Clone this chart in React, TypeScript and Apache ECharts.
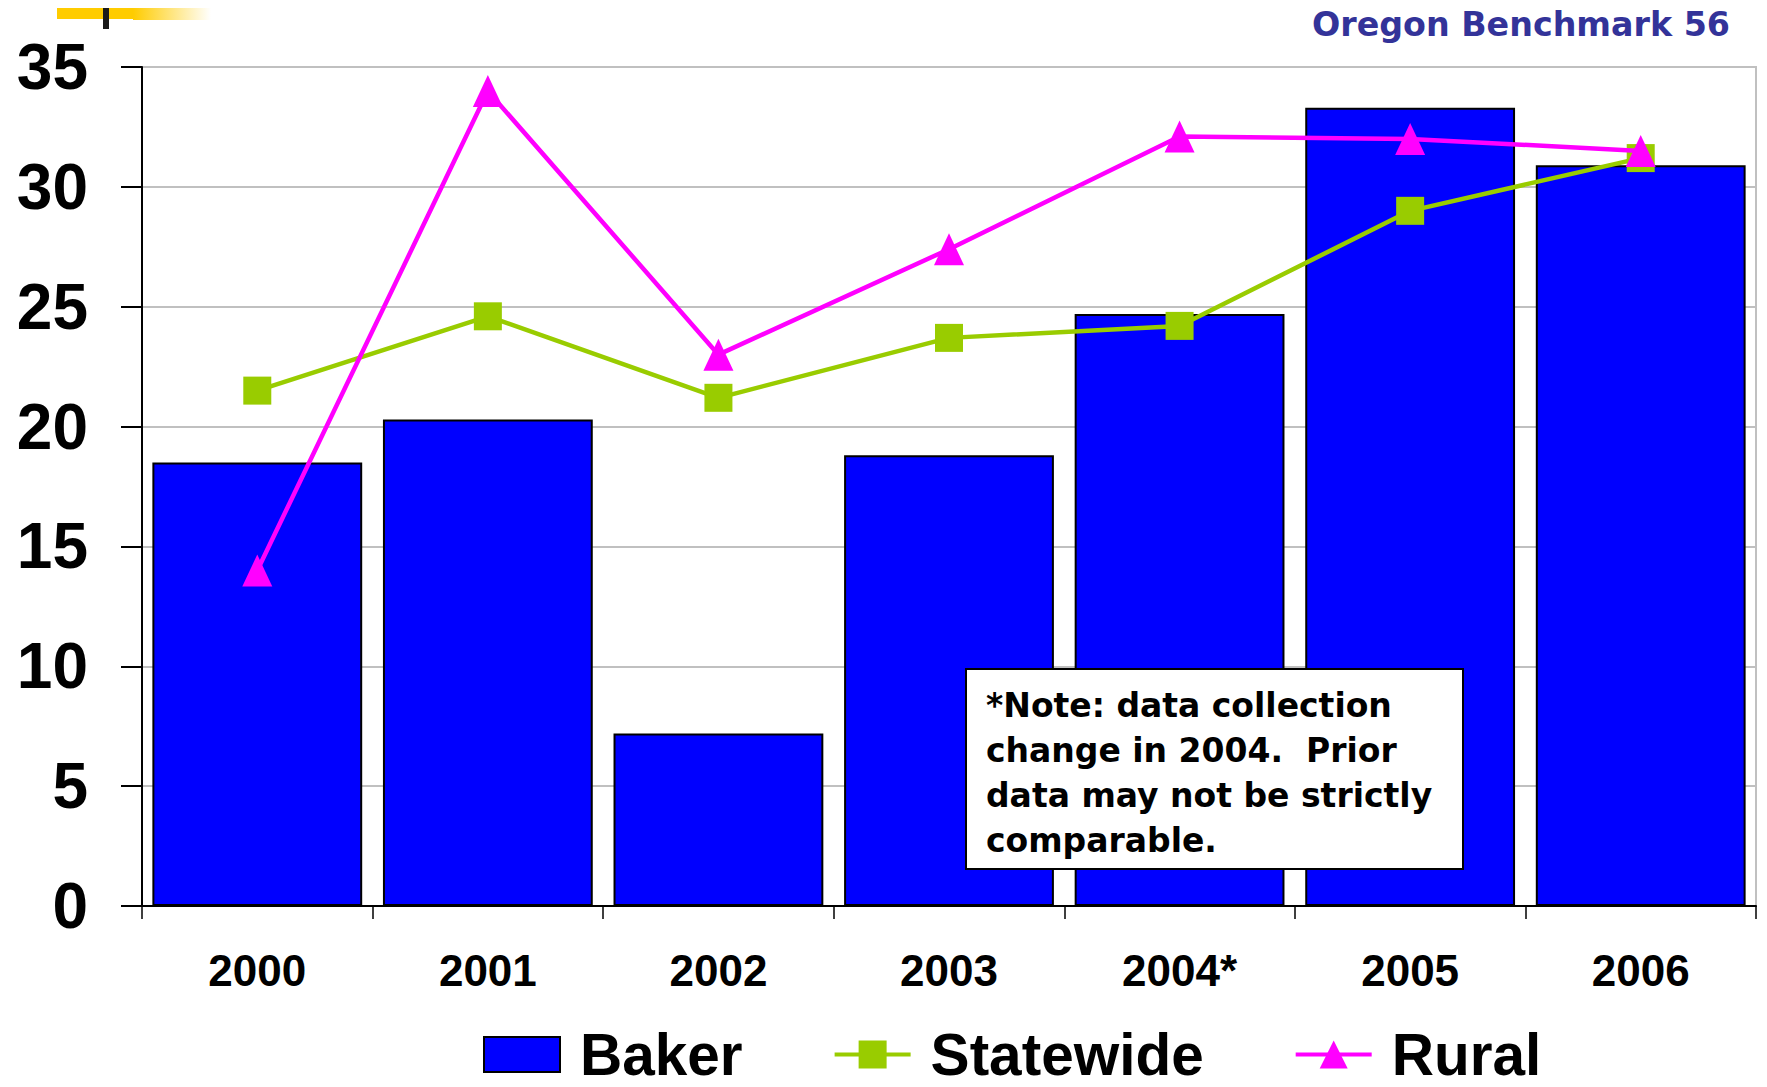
import React, { useEffect, useRef } from "react";
import * as echarts from "echarts";

const categories = ["2000", "2001", "2002", "2003", "2004*", "2005", "2006"];
const bakerValues = [18.5, 20.3, 7.2, 18.8, 24.7, 33.3, 30.9];
const statewideValues = [21.5, 24.6, 21.2, 23.7, 24.2, 29.0, 31.2];
const ruralValues = [14.0, 34.0, 23.0, 27.4, 32.1, 32.0, 31.5];
const seriesNames = ["Baker", "Statewide", "Rural"];
const titleText = "Oregon Benchmark 56";
const noteText = "*Note: data collection\nchange in 2004.  Prior\ndata may not be strictly\ncomparable.";

export default function App() {
  const ref = useRef<HTMLDivElement>(null);
  useEffect(() => {
    if (!ref.current) return;
    const chart = echarts.init(ref.current, undefined, { renderer: "svg" });
    const axisFont = "'Liberation Sans', Arial, sans-serif";
    const verdanaLike = "'DejaVu Sans', Verdana, sans-serif";
    chart.setOption({
      animation: false,
      backgroundColor: "#ffffff",
      grid: {
        left: 142,
        right: 11,
        top: 67,
        bottom: 181,
        show: true,
        borderColor: "#c0c0c0",
        borderWidth: 2,
        backgroundColor: "transparent",
      },
      legend: {
        data: [
          { name: seriesNames[0], icon: "rect" },
          { name: seriesNames[1] },
          { name: seriesNames[2] },
        ],
        left: 483,
        top: 1025,
        padding: 0,
        itemWidth: 76,
        itemHeight: 35,
        itemGap: 90,
        lineStyle: { width: 4 },
        textStyle: {
          fontFamily: axisFont,
          fontWeight: "bold",
          fontSize: 58.5,
          color: "#000000",
          padding: [0, 0, 0, 15],
        },
      },
      xAxis: {
        type: "category",
        data: categories,
        boundaryGap: true,
        axisLine: { show: true, lineStyle: { color: "#000000", width: 2 } },
        axisTick: { show: true, length: 13, interval: 0, lineStyle: { color: "#000000", width: 1.5 } },
        axisLabel: {
          interval: 0,
          margin: 42,
          fontFamily: axisFont,
          fontWeight: "bold",
          fontSize: 44,
          color: "#000000",
        },
        splitLine: { show: false },
      },
      yAxis: {
        type: "value",
        min: 0,
        max: 35,
        interval: 5,
        axisLine: { show: true, lineStyle: { color: "#000000", width: 2 } },
        axisTick: { show: true, length: 21, lineStyle: { color: "#000000", width: 2 } },
        axisLabel: {
          margin: 54,
          fontFamily: axisFont,
          fontWeight: "bold",
          fontSize: 64,
          color: "#000000",
        },
        splitLine: { show: true, lineStyle: { color: "#c0c0c0", width: 2 } },
      },
      series: [
        {
          name: seriesNames[0],
          type: "bar",
          data: bakerValues,
          barCategoryGap: "9%",
          itemStyle: { color: "#0000ff", borderColor: "#000000", borderWidth: 2 },
          z: 2,
        },
        {
          name: seriesNames[1],
          type: "line",
          data: statewideValues,
          symbol: "rect",
          symbolSize: 28,
          lineStyle: { color: "#99cc00", width: 4.5 },
          itemStyle: { color: "#99cc00" },
          z: 3,
        },
        {
          name: seriesNames[2],
          type: "line",
          data: ruralValues,
          symbol: "triangle",
          symbolSize: [30, 32],
          lineStyle: { color: "#ff00ff", width: 4.5 },
          itemStyle: { color: "#ff00ff" },
          z: 4,
        },
      ],
      graphic: [
        { type: "rect", left: 57, top: 0, shape: { width: 77, height: 19 }, style: { fill: "#ffcc00" }, z: 10 },
        {
          type: "rect",
          left: 133,
          top: 0,
          shape: { width: 78, height: 20 },
          style: {
            fill: new echarts.graphic.LinearGradient(0, 0, 1, 0, [
              { offset: 0, color: "#ffcc00" },
              { offset: 1, color: "#ffffff" },
            ]),
          },
          z: 10,
        },
        { type: "rect", left: 103, top: 0, shape: { width: 6, height: 29 }, style: { fill: "#1a1a1a" }, z: 11 },
        {
          type: "text",
          right: 37,
          top: 8,
          style: {
            text: titleText,
            fontFamily: verdanaLike,
            fontWeight: "bold",
            fontSize: 33.3,
            fill: "#333399",
          },
          z: 10,
        },
        {
          type: "group",
          left: 965,
          top: 668,
          z: 20,
          children: [
            {
              type: "rect",
              shape: { x: 0, y: 0, width: 497, height: 200 },
              style: { fill: "#ffffff", stroke: "#000000", lineWidth: 2 },
              z: 20,
            },
            {
              type: "text",
              x: 20,
              y: 14,
              style: {
                text: noteText,
                fontFamily: verdanaLike,
                fontWeight: "bold",
                fontSize: 33,
                lineHeight: 45,
                fill: "#000000",
              },
              z: 21,
            },
          ],
        },
      ],
    });
    return () => chart.dispose();
  }, []);
  return <div ref={ref} style={{ width: 1767, height: 1087, margin: -8 }} />;
}
